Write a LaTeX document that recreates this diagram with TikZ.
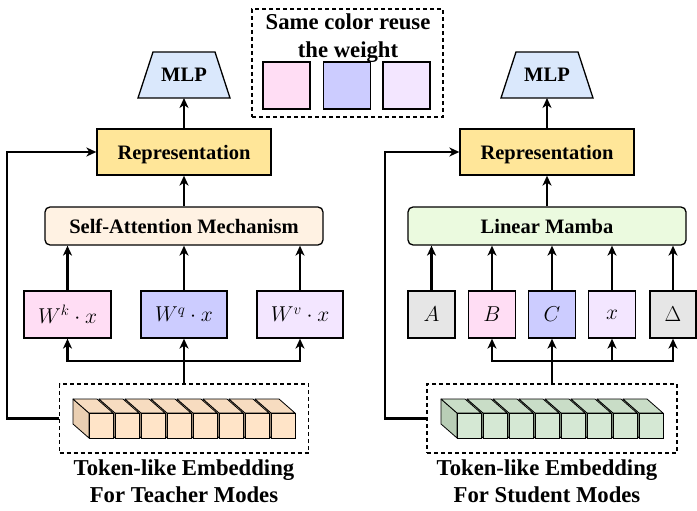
\documentclass[tikz,border=0pt]{standalone}
\usepackage{fix-cm}
\usepackage{fontspec}
\setmainfont{Liberation Serif}
\usetikzlibrary{arrows.meta,backgrounds}
\definecolor{mlpc}{HTML}{DAE8FC}
\definecolor{repc}{HTML}{FFE699}
\definecolor{samc}{HTML}{FFF2E3}
\definecolor{lmc}{HTML}{EBFADF}
\definecolor{pinkc}{HTML}{FFDDF4}
\definecolor{bluec}{HTML}{CCCCFF}
\definecolor{lavc}{HTML}{F3E6FF}
\definecolor{grayc}{HTML}{E6E6E6}
\definecolor{pfront}{HTML}{FFE4C8}
\definecolor{ptop}{HTML}{F7DCC0}
\definecolor{pside}{HTML}{EACFB2}
\definecolor{gfront}{HTML}{D5E8D4}
\definecolor{gtop}{HTML}{C9DDC7}
\definecolor{gside}{HTML}{B9CEB6}
\newcommand\cuberow[4]{%
 \foreach \k in {7,6,5,4,3,2,1,0}{%
  \pgfmathsetmacro\fx{#1+26*\k}%
  \filldraw[fill=#4, line width=0.8pt, line join=round] (\fx-16,399) -- (\fx,413) -- (\fx,438) -- (\fx-16,424) -- cycle;
  \filldraw[fill=#3, line width=0.8pt, line join=round] (\fx-16,399) -- (\fx+8,399) -- (\fx+24,413) -- (\fx,413) -- cycle;
  \filldraw[fill=#2, line width=0.8pt] (\fx,413) rectangle (\fx+24,438);
 }}
\newcommand\mlpshape[1]{%
 \begin{scope}[on background layer]
 \filldraw[fill=mlpc, line width=1.3pt, line join=miter] (#1.south west) -- (#1.south east) -- ([xshift=-15pt]#1.north east) -- ([xshift=15pt]#1.north west) -- cycle;
 \end{scope}}
\begin{document}
\begin{tikzpicture}[x=1pt,y=-1pt,
  box/.style={draw=black, line width=1.3pt, inner sep=0pt, text depth=0pt, font=\bfseries\fontsize{20.5}{24}\selectfont},
  mlpbox/.style={minimum width=92pt, minimum height=46pt, inner sep=0pt, outer sep=0pt, text depth=0pt, font=\bfseries\fontsize{20.5}{24}\selectfont},
  mbox/.style={draw=black, line width=1.3pt, inner sep=0pt, minimum height=47pt, text depth=0pt, font=\fontsize{21.5}{25}\selectfont},
  sq/.style={draw=black, line width=1.3pt, inner sep=0pt, minimum size=47pt},
  arr/.style={line width=2.1pt, -{Stealth[length=10pt,width=9pt,inset=3pt]}},
  ln/.style={line width=2.1pt},
  dbox/.style={draw=black, line width=1.2pt, dash pattern=on 4pt off 3pt, inner sep=0pt},
  captext/.style={font=\bfseries\fontsize{22.7}{27}\selectfont, align=center, inner sep=0pt},
]
\useasboundingbox (0,0) rectangle (697,511);
% legend
\node[dbox, minimum width=191pt, minimum height=108pt] (leg) at (347.5,63) {};
\node[captext, font=\bfseries\fontsize{22.7}{28}\selectfont] (legt) at (348,38) {Same color reuse\\the weight};
\node[sq, fill=pinkc] (s1) at (286.5,85.5) {};
\node[sq, fill=bluec] (s2) at (347,85.5) {};
\node[sq, fill=lavc] (s3) at (406.5,85.5) {};
% left
\node[mlpbox] (mlpL) at (184,75) {MLP};
\mlpshape{mlpL}
\node[box, fill=repc, minimum width=174pt, minimum height=46pt] (repL) at (184,152) {Representation};
\node[box, fill=samc, rounded corners=5pt, minimum width=278pt, minimum height=38pt] (samL) at (184,226) {Self-Attention Mechanism};
\node[mbox, fill=pinkc, minimum width=87pt] (wk) at (67.5,314.5) {$W^k\cdot x$};
\node[mbox, fill=bluec, minimum width=86pt] (wq) at (184,314.5) {$W^q\cdot x$};
\node[mbox, fill=lavc, minimum width=86pt] (wv) at (300,314.5) {$W^v\cdot x$};
\node[dbox, minimum width=249pt, minimum height=69pt] (embL) at (184,418.5) {};
\cuberow{89}{pfront}{ptop}{pside}
\node[captext] (capL) at (184,481.5) {Token-like Embedding\\For Teacher Modes};
\draw[arr] (repL.north) -- (mlpL.south);
\draw[arr] (samL.north) -- (repL.south);
\foreach \n in {wk,wq,wv} \draw[arr] (\n.north) -- (\n.north |- samL.south);
\coordinate (busL) at (184,361);
\draw[ln] (embL.north) -- (busL);
\draw[arr] (busL) -| (wk.south);
\draw[arr] (busL) -| (wv.south);
\draw[arr] (busL) -- (wq.south);
\coordinate (fbL) at (7,418.5);
\draw[arr] (embL.west) -- (fbL) |- (repL.west);
% right
\node[mlpbox] (mlpR) at (547,75) {MLP};
\mlpshape{mlpR}
\node[box, fill=repc, minimum width=174pt, minimum height=46pt] (repR) at (547,152) {Representation};
\node[box, fill=lmc, rounded corners=5pt, minimum width=278pt, minimum height=38pt] (lm) at (547,226) {Linear Mamba};
\node[mbox, fill=grayc, minimum width=47pt] (bA) at (431.5,314.5) {$A$};
\node[mbox, fill=pinkc, minimum width=47pt] (bB) at (492,314.5) {$B$};
\node[mbox, fill=bluec, minimum width=47pt] (bC) at (552,314.5) {$C$};
\node[mbox, fill=lavc, minimum width=47pt] (bx) at (612,314.5) {$x$};
\node[mbox, fill=grayc, minimum width=46pt] (bD) at (673,314.5) {$\Delta$};
\node[dbox, minimum width=250pt, minimum height=69pt] (embR) at (552,418.5) {};
\cuberow{457}{gfront}{gtop}{gside}
\node[captext] (capR) at (547,481.5) {Token-like Embedding\\For Student Modes};
\draw[arr] (repR.north) -- (mlpR.south);
\draw[arr] (lm.north) -- (repR.south);
\foreach \n in {bA,bB,bC,bx,bD} \draw[arr] (\n.north) -- (\n.north |- lm.south);
\coordinate (busR) at (552,361);
\draw[ln] (embR.north) -- (busR);
\draw[arr] (busR) -| (bB.south);
\draw[arr] (busR) -| (bD.south);
\draw[arr] (busR) -- (bC.south);
\draw[arr] (busR -| bx) -- (bx.south);
\coordinate (fbR) at (385,418.5);
\draw[arr] (embR.west) -- (fbR) |- (repR.west);
\end{tikzpicture}
\end{document}
